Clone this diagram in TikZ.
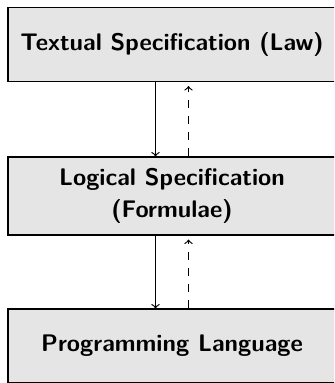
\documentclass[tikz,border=0pt]{standalone}
\begin{document}
\begin{tikzpicture}[x=0.5pt,y=-0.5pt,
  box/.style={draw=black, line width=0.55pt, fill=black!10, minimum width=164pt, minimum height=37pt, align=center, font=\fontsize{12}{16}\selectfont\sffamily\bfseries, inner sep=0pt},
  flow/.style={->, line width=0.6pt},
  back/.style={->, dash pattern=on 4pt off 4pt, line width=0.6pt, shorten >=2pt}]
\clip (0,0) rectangle (334,383);
\node[box] (t) at (172,44.5) {Textual Specification (Law)};
\node[box, minimum height=39pt] (m) at (172,196) {Logical Specification\\(Formulae)};
\node[box] (b) at (172,346) {Programming Language};
\draw[flow] ([xshift=-8.25pt]t.south) -- ([xshift=-8.25pt]m.north);
\draw[back] ([xshift=8.25pt]m.north) -- ([xshift=8.25pt]t.south);
\draw[flow] ([xshift=-8.25pt]m.south) -- ([xshift=-8.25pt]b.north);
\draw[back] ([xshift=8.25pt]b.north) -- ([xshift=8.25pt]m.south);
\end{tikzpicture}
\end{document}
